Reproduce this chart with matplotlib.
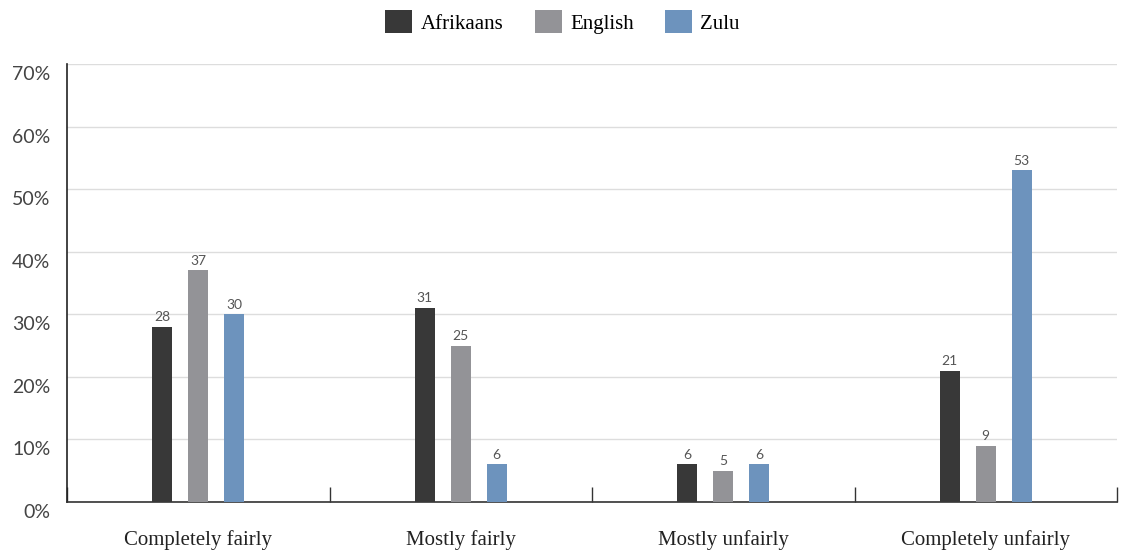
import numpy as np
import matplotlib.pyplot as plt
import matplotlib.transforms as mtransforms
from matplotlib.ticker import FixedLocator

categories = ['Completely fairly', 'Mostly fairly', 'Mostly unfairly', 'Completely unfairly']
series_names = ['Afrikaans', 'English', 'Zulu']
afrikaans = [28, 31, 6, 21]
english = [37, 25, 5, 9]
zulu = [30, 6, 6, 53]
colors = ['#383838', '#939397', '#6d93bd']

fig = plt.figure(figsize=(11.25, 5.58), dpi=100)
ax = fig.add_axes([67 / 1125, 1 - 502 / 558, 1050 / 1125, 438 / 558])

x = np.arange(len(categories))
w = 0.076
step = 0.137
for i, (vals, name) in enumerate(zip([afrikaans, english, zulu], series_names)):
    pos = x + (i - 1) * step
    bars = ax.bar(pos, vals, width=w, color=colors[i], label=name, zorder=3)
    for b, v in zip(bars, vals):
        ax.text(b.get_x() + b.get_width() / 2, v + 0.6, str(v), ha='center', va='bottom',
                fontsize=10, color='#555555', family='Lato')

ax.set_xlim(-0.5, len(categories) - 0.5)
ax.set_ylim(0, 70)
ax.set_yticks(range(0, 71, 10))
ax.set_yticklabels([f'{t}%' for t in range(0, 71, 10)], family='Lato', fontsize=14,
                   color='#444444')
ax.yaxis.grid(True, color='#dddddd', linewidth=1, zorder=0)
ax.tick_params(axis='y', length=0, pad=12)
shift = mtransforms.ScaledTranslation(0, -9 / 100, fig.dpi_scale_trans)
for lab in ax.get_yticklabels():
    lab.set_transform(lab.get_transform() + shift)

ax.set_xticks(x)
ax.set_xticklabels(categories, family='Liberation Serif', fontsize=15, color='#222222')
ax.tick_params(axis='x', which='major', length=0, pad=20)
ax.xaxis.set_minor_locator(FixedLocator(np.arange(-0.5, len(categories), 1.0)))
ax.tick_params(axis='x', which='minor', direction='in', length=11, width=1, color='#333333')

for s in ['top', 'right']:
    ax.spines[s].set_visible(False)
ax.spines['left'].set_color('#222222')
ax.spines['bottom'].set_color('#333333')
ax.spines['left'].set_linewidth(1.2)
ax.spines['bottom'].set_linewidth(1.2)

fig.legend(loc='upper center', bbox_to_anchor=(0.5, 1.015), ncol=3, frameon=False,
           prop={'family': 'Liberation Serif', 'size': 15}, handlelength=1.3, handleheight=1.3,
           columnspacing=1.5, handletextpad=0.4)

fig.savefig('out.png', dpi=100)
